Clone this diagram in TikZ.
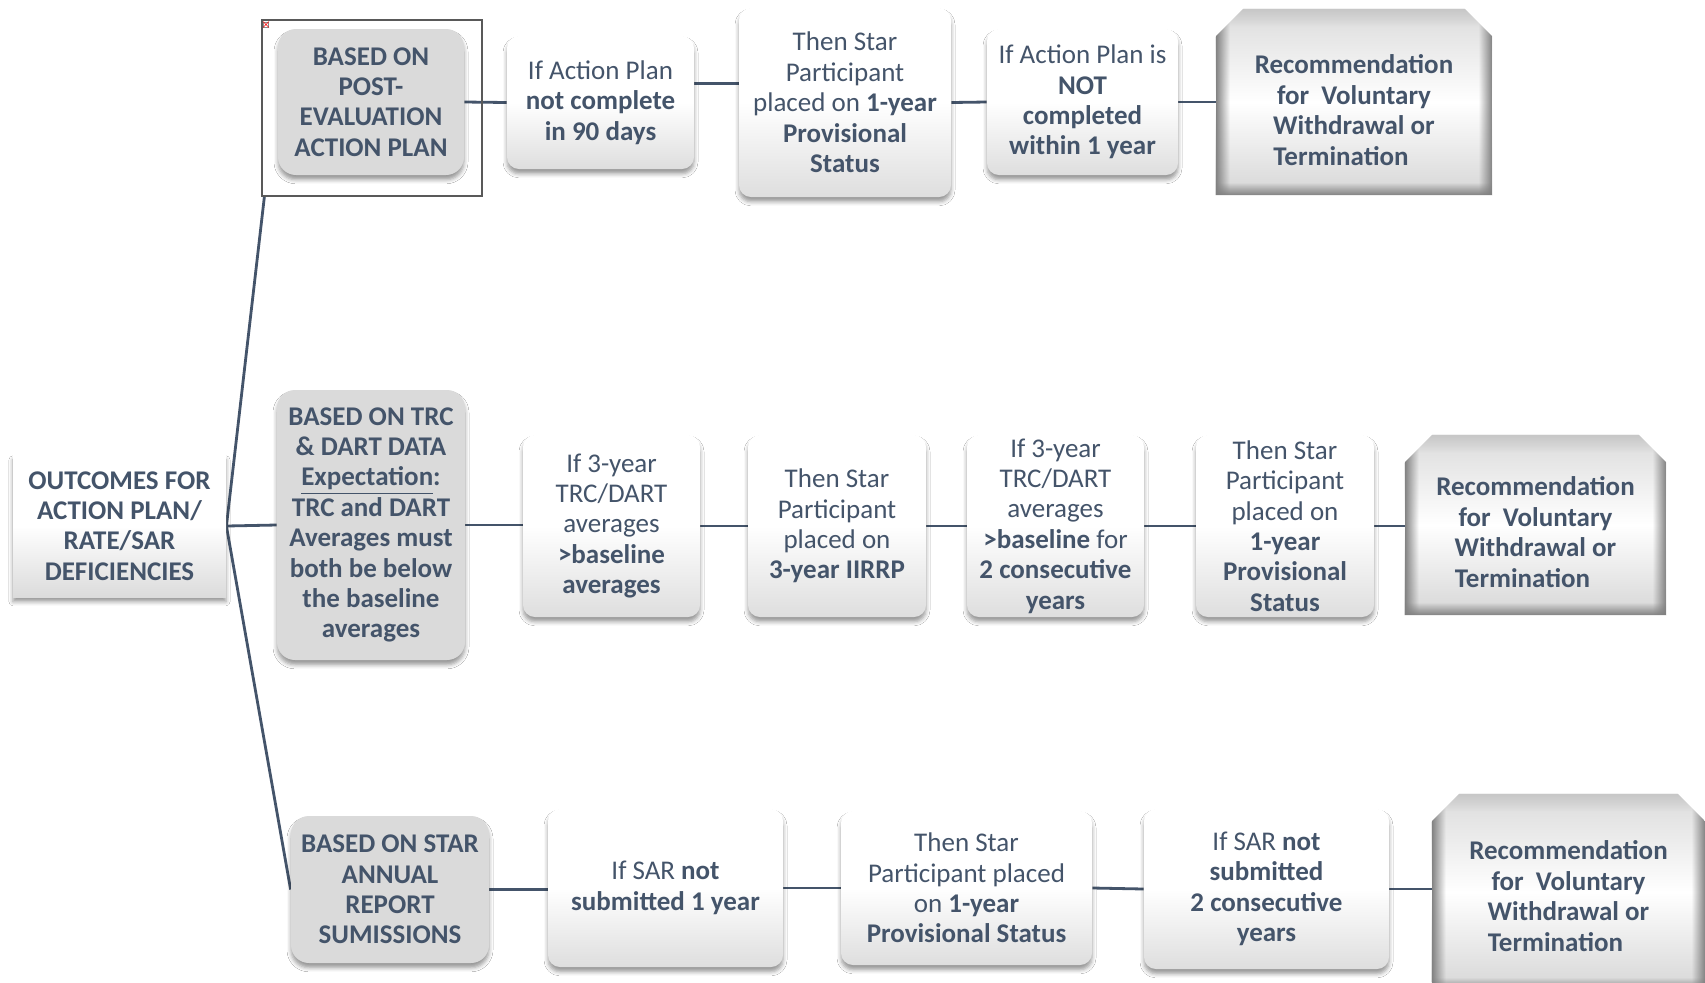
\documentclass[tikz,border=0pt]{standalone}
\usepackage{fontspec}
\setmainfont{Carlito}
\usetikzlibrary{calc,backgrounds,fadings,shadows.blur}
\definecolor{txt}{HTML}{44546A}
\definecolor{ln}{HTML}{44546A}
\definecolor{gfill}{HTML}{DADADA}
\tikzfading[name=fadeR, left color=transparent!0, right color=transparent!100]
\tikzfading[name=fadeL, left color=transparent!100, right color=transparent!0]
\tikzfading[name=fadeU, bottom color=transparent!0, top color=transparent!100]
\tikzfading[name=fadeD, top color=transparent!0, bottom color=transparent!100]
\newcommand\chpath[1]{(#1.south west) -- ($(#1.north west)+(0,28)$) -- ($(#1.north west)+(28,0)$) -- ($(#1.north east)+(-28,0)$) -- ($(#1.north east)+(0,28)$) -- (#1.south east) -- cycle}
\newcommand\recshade[1]{%
  \path[top color=black!14, bottom color=black!16, middle color=white] \chpath{#1};
  \begin{scope}
    \clip \chpath{#1};
    \fill[black!50, path fading=fadeR] (#1.south west) rectangle ($(#1.north west)+(14,0)$);
    \fill[black!50, path fading=fadeL] ($(#1.south east)+(-14,0)$) rectangle (#1.north east);
    \fill[black!50, path fading=fadeU] ($(#1.south west)+(0,-13)$) rectangle (#1.south east);
    \fill[black!22, path fading=fadeD] (#1.north west) rectangle ($(#1.north east)+(0,18)$);
  \end{scope}}
\tikzset{
  base/.style={align=center, text=txt, inner sep=1pt, font=\fontsize{13.5}{15.2}\selectfont},
  shad/.style={blur shadow={shadow xshift=0pt, shadow yshift=-2.4pt, shadow blur radius=2pt, shadow opacity=40}},
  wbox/.style={base, shad, rounded corners=6pt, top color=white, bottom color=black!13, middle color=white},
  gbox/.style={base, shad, rounded corners=9pt, fill=gfill, font=\fontsize{13.5}{15.2}\selectfont\bfseries},
  obox/.style={base, shad, rectangle, top color=white, bottom color=black!14, middle color=white, font=\fontsize{13.5}{15.2}\selectfont\bfseries},
  recbox/.style={rectangle, draw=none, inner sep=0pt},
  rectxt/.style={base, font=\fontsize{13.5}{15.2}\selectfont\bfseries},
  conn/.style={draw=ln, line width=1.4pt},
}
\begin{document}
\begin{tikzpicture}[x=0.5pt, y=-0.5pt]
\useasboundingbox (0,0) rectangle (1705,982);

% root
\node[obox, minimum width=106.5pt, minimum height=71pt] (out) at (119.5,526)
  {OUTCOMES FOR\\ACTION PLAN/\\RATE/SAR\\DEFICIENCIES};

% top row
\node[draw=black!65, line width=0.6pt, rectangle, minimum width=110pt, minimum height=88pt, inner sep=0pt] (apframe) at (372,108) {};
\node[draw=black!45, fill=white, line width=0.3pt, minimum size=2.6pt, inner sep=0pt] (icon) at (266,24.5) {};
\draw[red, line width=0.3pt] (icon.north west) -- (icon.south east) (icon.north east) -- (icon.south west);
\node[gbox, minimum width=93pt, minimum height=73pt] (ap) at (371,102)
  {BASED ON\\POST-\\EVALUATION\\ACTION PLAN};
\node[wbox, minimum width=93.5pt, minimum height=66.5pt] (a1) at (600.5,102.5)
  {If Action Plan\\\textbf{not complete}\\\textbf{in 90 days}};
\node[wbox, minimum width=106pt, minimum height=94.5pt] (a2) at (845,102.5)
  {Then Star\\Participant\\placed on \textbf{1-year}\\\textbf{Provisional}\\\textbf{Status}};
\node[wbox, minimum width=95.5pt, minimum height=73pt] (a3) at (1082.5,102)
  {If Action Plan is\\\textbf{NOT}\\\textbf{completed}\\\textbf{within 1 year}};
\node[recbox, minimum width=138pt, minimum height=93pt] (rec1) at (1354,102) {};
\node[rectxt] (rec1t) at ($(rec1)+(0,8)$)
  {Recommendation\\for\ \ Voluntary\\Withdrawal or\\Termination\hspace*{13pt}};

% middle row
\node[gbox, minimum width=94pt, minimum height=135pt] (trc) at (371,525)
  {BASED ON TRC\\\& DART DATA\\\underline{Expectation}:\\TRC and DART\\Averages must\\both be below\\the baseline\\averages};
\node[wbox, minimum width=88.5pt, minimum height=91pt] (b1) at (611.5,526)
  {If 3-year\\TRC/DART\\averages\\\textbf{>baseline}\\\textbf{averages}};
\node[wbox, minimum width=89pt, minimum height=91pt] (b2) at (837,526)
  {Then Star\\Participant\\placed on\\\textbf{3-year IIRRP}};
\node[wbox, minimum width=88.5pt, minimum height=91pt] (b3) at (1055.5,526)
  {If 3-year\\TRC/DART\\averages\\\textbf{>baseline} for\\\textbf{2 consecutive}\\\textbf{years}};
\node[wbox, minimum width=89pt, minimum height=91pt] (b4) at (1285,526)
  {Then Star\\Participant\\placed on\\\textbf{1-year}\\\textbf{Provisional}\\\textbf{Status}};
\node[recbox, minimum width=130.5pt, minimum height=90pt] (rec2) at (1535.5,525) {};
\node[rectxt] (rec2t) at ($(rec2)+(0,7)$)
  {Recommendation\\for\ \ Voluntary\\Withdrawal or\\Termination\hspace*{13pt}};

% bottom row
\node[gbox, minimum width=99pt, minimum height=73.5pt] (star) at (390,889.5)
  {BASED ON STAR\\ANNUAL\\REPORT\\SUMISSIONS};
\node[wbox, minimum width=117.5pt, minimum height=79pt] (c1) at (665.5,888)
  {If SAR \textbf{not}\\\textbf{submitted 1 year}};
\node[wbox, minimum width=125.5pt, minimum height=77pt] (c2) at (966.5,888)
  {Then Star\\Participant placed\\on \textbf{1-year}\\\textbf{Provisional Status}};
\node[wbox, minimum width=122.5pt, minimum height=80pt] (c3) at (1266.5,889)
  {If SAR \textbf{not}\\\textbf{submitted}\\\textbf{2 consecutive}\\\textbf{years}};
\node[recbox, minimum width=136.5pt, minimum height=98pt] (rec3) at (1568.5,892) {};
\node[rectxt] (rec3t) at ($(rec3)+(0,4)$)
  {Recommendation\\for\ \ Voluntary\\Withdrawal or\\Termination\hspace*{13pt}};

\begin{scope}[on background layer]
  \fill[white] (0,0) rectangle (1705,982);
  \recshade{rec1}
  \recshade{rec2}
  \recshade{rec3}
  \draw[conn] (out.east) -- ($(apframe.south west)+(3,0)$);
  \draw[conn] (out.east) -- (trc.west);
  \draw[conn] (out.east) -- (star.west);
  \draw[conn] (ap.east) -- (a1.west);
  \draw[conn] ($(a1.east)+(0,-19)$) -- ($(a2.west)+(0,-19)$);
  \draw[conn] (a2.east) -- (a3.west);
  \draw[conn] (a3.east) -- (rec1.west);
  \draw[conn] (trc.east) -- (trc.east -| b1.west);
  \draw[conn] (b1.east) -- (b2.west);
  \draw[conn] (b2.east) -- (b3.west);
  \draw[conn] (b3.east) -- (b4.west);
  \draw[conn] (b4.east) -- (b4.east -| rec2.west);
  \draw[conn] (star.east) -- (star.east -| c1.west);
  \draw[conn] (c1.east) -- (c2.west);
  \draw[conn] (c2.east) -- (c3.west);
  \draw[conn] (c3.east) -- (c3.east -| rec3.west);
\end{scope}
\end{tikzpicture}
\end{document}
